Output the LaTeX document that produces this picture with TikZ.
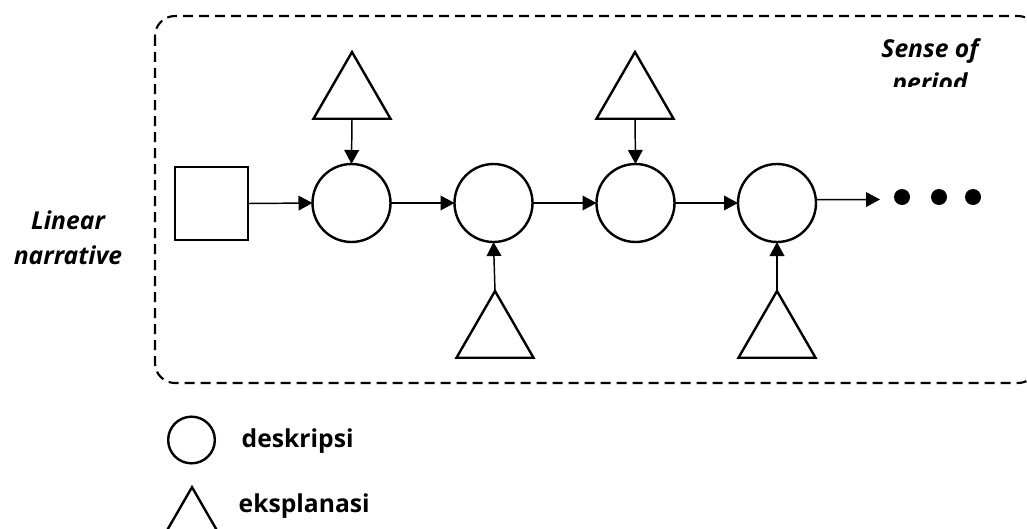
\documentclass[tikz,border=0pt]{standalone}
\usepackage{fontspec}
\setmainfont{Open Sans}
\usetikzlibrary{shapes.geometric,arrows.meta}
\begin{document}
\begin{tikzpicture}[x=0.75pt,y=-0.75pt,
 shp/.style={draw,line width=1.8pt,inner sep=0pt,outer sep=0pt},
 desc/.style={shp,circle,minimum size=58.5pt},
 expl/.style={shp,regular polygon,regular polygon sides=3,minimum size=66.7pt},
 conn/.style={line width=1.1pt,-{Triangle[length=10.5pt,width=11pt]}},
 lbl/.style={font=\bfseries\itshape\fontsize{18.5}{26}\selectfont,align=center},
 leg/.style={font=\bfseries\fontsize{18.5}{20}\selectfont,anchor=west},
 dot/.style={circle,fill,inner sep=0pt,minimum size=12pt}]
\useasboundingbox (0,0) rectangle (1027,528);
\clip (0,0) rectangle (1027,528);
\draw[line width=1.6pt,dash pattern=on 7.5pt off 4.5pt,rounded corners=15pt] (155,16) rectangle (1038,383);
% main chain
\node[shp,minimum size=55pt] (sq) at (211.5,203.5) {};
\node[desc] (c1) at (351.5,203) {};
\node[desc] (c2) at (493.5,203) {};
\node[desc] (c3) at (635.5,203) {};
\node[desc] (c4) at (777,203) {};
\node[expl] (t1) at (352,96.5) {};
\node[expl] (t3) at (635,96.5) {};
\node[expl] (t2) at (495,335.5) {};
\node[expl] (t4) at (777,335.5) {};
\draw[conn] (sq.east) -- (c1.west);
\draw[conn] (c1.east) -- (c2.west);
\draw[conn] (c2.east) -- (c3.west);
\draw[conn] (c3.east) -- (c4.west);
\coordinate (end) at (880,199.5);
\draw[conn] (c4.5) -- (end);
\draw[conn] (t1.side 2) -- (c1.north);
\draw[conn] (t3.side 2) -- (c3.north);
\draw[conn] (t2.corner 1) -- (c2.south);
\draw[conn] (t4.corner 1) -- (c4.south);
\node[dot] (d1) at (902,197) {};
\node[dot] (d2) at (939,197) {};
\node[dot] (d3) at (973,197) {};
% labels
\node[lbl] (ln) at (68,238) {Linear\\narrative};
\begin{scope}
\clip (840,20) rectangle (1027,86);
\node[lbl] (sp) at (930,68) {Sense of\\period};
\end{scope}
% legend
\node[desc,minimum size=35pt] (lc) at (191.5,440) {};
\node[leg] (lt1) at (237,441) {deskripsi};
\node[expl,minimum size=50pt] (lt) at (192,520.5) {};
\node[leg] (lt2) at (234,506) {eksplanasi};
\end{tikzpicture}
\end{document}
